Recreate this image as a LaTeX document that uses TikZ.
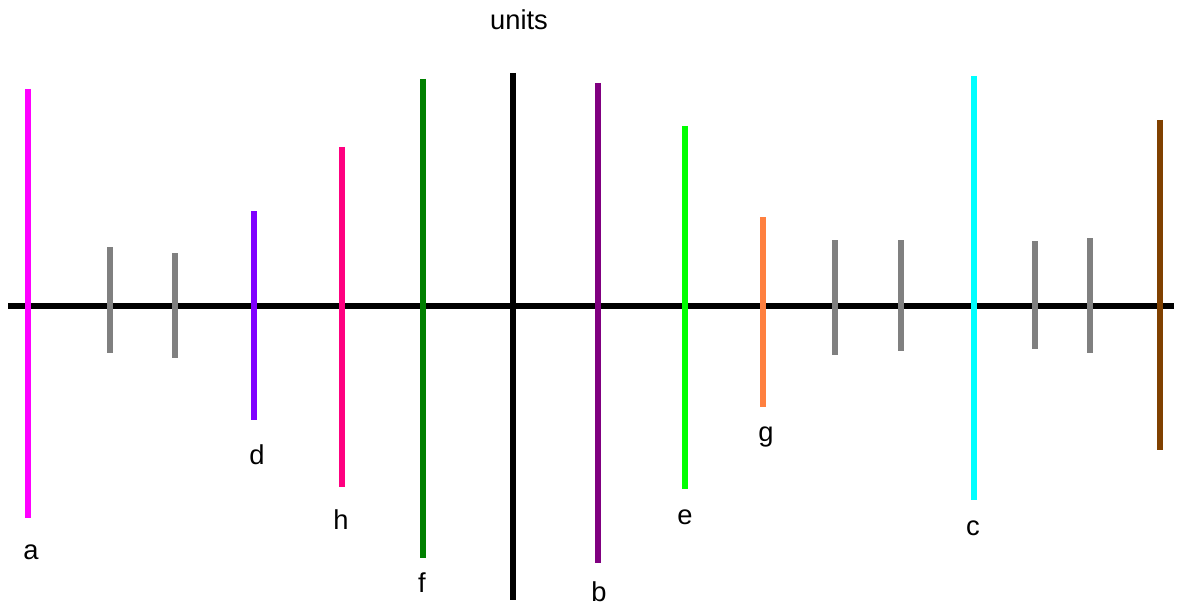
\documentclass[tikz,border=0pt]{standalone}
\usepackage{fontspec}
\setmainfont{Liberation Sans}
\definecolor{cmag}{HTML}{FF00FF}
\definecolor{cgray}{HTML}{808080}
\definecolor{cviol}{HTML}{8000FF}
\definecolor{cpink}{HTML}{FF0080}
\definecolor{cgreen}{HTML}{008000}
\definecolor{cpurp}{HTML}{800080}
\definecolor{clime}{HTML}{00FF00}
\definecolor{corange}{HTML}{FF8040}
\definecolor{ccyan}{HTML}{00FFFF}
\definecolor{cbrown}{HTML}{804000}
\begin{document}
\begin{tikzpicture}[x=0.75pt,y=-0.75pt,
  bar/.style={line width=4pt},
  lbl/.style={font=\fontsize{20.5}{23}\selectfont, inner sep=0pt}]
\useasboundingbox (0,0) rectangle (1177,606);
% axis
\coordinate (axl) at (8,306);
\coordinate (axr) at (1174,306);
\draw[bar,black] (axl) -- (axr);
\coordinate (ut) at (513,73); \coordinate (ub) at (513,600);
\draw[bar,black] (ut) -- (ub);
\node[lbl] (units) at (519,20) {units};
% gray ticks
\foreach \x/\t/\b [count=\i] in {110/247/353,175/253/358,835/240/355,901/240/351,1035/241/349,1090/238/353}{
  \coordinate (gt\i) at (\x,\t); \coordinate (gb\i) at (\x,\b);
  \draw[bar,cgray] (gt\i) -- (gb\i);
}
% coloured bars
\foreach \n/\x/\t/\b/\c in {a/28/89/518/cmag, d/254/211/420/cviol, h/342/147/487/cpink, f/423/79/558/cgreen, b/598/83/563/cpurp, e/685/126/489/clime, g/763/217/407/corange, c/974/76/500/ccyan, k/1160/120/450/cbrown}{
  \coordinate (\n t) at (\x,\t); \coordinate (\n b) at (\x,\b);
  \draw[bar,\c] (\n t) -- (\n b);
}
\node[lbl] (la) at (31,552) {a};
\node[lbl] (ld) at (257,455) {d};
\node[lbl] (lh) at (341,520) {h};
\node[lbl] (lf) at (422,583) {f};
\node[lbl] (lb) at (599,592) {b};
\node[lbl] (le) at (685,517) {e};
\node[lbl] (lg) at (766,437) {g};
\node[lbl] (lc) at (973,528) {c};
\end{tikzpicture}
\end{document}
